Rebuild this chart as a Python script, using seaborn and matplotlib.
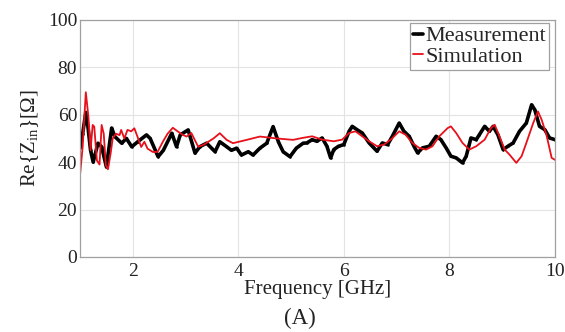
import matplotlib
matplotlib.use("Agg")
import matplotlib.pyplot as plt
import pandas as pd
import seaborn as sns

# Values
meas_freq = [1.00, 1.05, 1.11, 1.15, 1.20, 1.25, 1.34, 1.41, 1.50, 1.60, 1.66, 1.79,
             1.88, 1.98, 2.10, 2.26, 2.33, 2.48, 2.58, 2.74, 2.83, 2.90, 3.05, 3.18,
             3.27, 3.40, 3.56, 3.65, 3.78, 3.87, 3.97, 4.06, 4.19, 4.28, 4.41, 4.54,
             4.66, 4.76, 4.85, 4.98, 5.10, 5.23, 5.30, 5.40, 5.49, 5.59, 5.68, 5.75,
             5.81, 5.90, 6.00, 6.10, 6.16, 6.25, 6.35, 6.48, 6.63, 6.73, 6.83, 6.92,
             7.05, 7.14, 7.24, 7.33, 7.40, 7.49, 7.62, 7.75, 7.84, 7.94, 8.03, 8.13,
             8.25, 8.32, 8.41, 8.51, 8.57, 8.67, 8.76, 8.83, 8.92, 9.02, 9.11, 9.21,
             9.33, 9.46, 9.56, 9.62, 9.71, 9.81, 9.90, 10.00]
meas_re = [46, 52, 61, 55, 45, 40, 48, 46.5, 38, 54.4, 50.8, 48,
           50, 46.5, 48.7, 51.5, 50, 42.3, 45, 52.2, 46.5, 51.5, 53.6, 43.8,
           46.5, 48, 44.4, 48.6, 46.5, 45, 45.9, 43, 44.4, 43, 45.9, 48,
           55, 48.6, 44.4, 42.3, 45.9, 48, 48.1, 49.5, 48.8, 50.2, 46.7, 41.8,
           45.3, 46.7, 47.4, 53, 55.1, 53.7, 52.3, 48.1, 44.6, 48.1, 47.4, 50.9,
           56.5, 53, 50.9, 46.7, 43.9, 46, 46.7, 50.9, 49.5, 46, 42.5, 41.8,
           39.7, 42.5, 50.2, 49.5, 51.6, 55.1, 53, 55.1, 51.6, 45.3, 46.7, 48.1,
           53, 56.5, 64.2, 62.1, 55.1, 53.7, 50.2, 49.5]

sim_freq = [1.00, 1.05, 1.11, 1.16, 1.20, 1.24, 1.27, 1.32, 1.37, 1.41, 1.45, 1.49,
            1.53, 1.58, 1.62, 1.68, 1.75, 1.78, 1.84, 1.90, 1.97, 2.03, 2.09, 2.16,
            2.22, 2.28, 2.38, 2.47, 2.57, 2.66, 2.76, 2.85, 2.95, 3.02, 3.11, 3.24,
            3.34, 3.53, 3.65, 3.78, 3.90, 4.16, 4.41, 4.73, 5.04, 5.21, 5.40, 5.59,
            5.81, 5.97, 6.10, 6.22, 6.35, 6.48, 6.63, 6.76, 6.89, 7.05, 7.17, 7.30,
            7.43, 7.56, 7.68, 7.81, 7.97, 8.03, 8.13, 8.25, 8.38, 8.51, 8.67, 8.79,
            8.86, 8.95, 9.05, 9.14, 9.27, 9.37, 9.46, 9.59, 9.68, 9.75, 9.84, 9.94,
            10.00]
sim_re = [34.5, 46.4, 69.5, 59, 45, 55.7, 55, 40.7, 39, 55.7, 52, 38.6,
          37, 43.6, 50, 52, 51.4, 53.6, 50, 53.6, 53, 54.3, 50.7, 46.4,
          48.6, 45.7, 44.3, 44.3, 48.6, 52, 54.5, 53, 51.5, 50.8, 52.3, 46.5,
          47.3, 50, 52.2, 49.4, 48, 49.4, 50.8, 50, 49.4, 50.2, 50.9, 49.5,
          48.8, 49.5, 52.3, 53, 50.9, 48.8, 46.7, 47.4, 49.5, 53, 51.6, 48.1,
          46, 45.3, 46.7, 50.9, 54.4, 55.1, 52.3, 48.1, 45.3, 46.7, 49.5, 54.4,
          55.8, 50.9, 45.3, 43.2, 39.7, 42.5, 48.1, 56.5, 61.4, 57.9, 51.6, 41.8,
          41]

x_ticks = [2, 4, 6, 8, 10]
y_ticks = [0, 20, 40, 60, 80, 100]

meas_df = pd.DataFrame({"freq": meas_freq, "re": meas_re})
sim_df = pd.DataFrame({"freq": sim_freq, "re": sim_re})

sns.set_style("whitegrid")
plt.rcParams["font.family"] = ["Liberation Serif", "DejaVu Serif"]
plt.rcParams["mathtext.fontset"] = "custom"
plt.rcParams["mathtext.rm"] = "Liberation Serif"
plt.rcParams["mathtext.it"] = "Liberation Serif:italic"

fig = plt.figure(figsize=(5.65, 3.32), dpi=100)
ax = fig.add_axes([0.1416, 0.226, 0.8404, 0.714])

sns.lineplot(data=meas_df, x="freq", y="re", ax=ax, color="black", linewidth=2.6,
             marker=".", markersize=3.5, markeredgewidth=0, sort=False,
             estimator=None, label="Measurement")
sns.lineplot(data=sim_df, x="freq", y="re", ax=ax, color="#e8101a", linewidth=1.3,
             sort=False, estimator=None, label="Simulation")

ax.set_xlim(1, 10)
ax.set_ylim(0, 100)
ax.set_xticks(x_ticks)
ax.set_yticks(y_ticks)
ax.tick_params(axis="both", labelsize=14, colors="#222222", length=0)
ax.tick_params(axis="x", pad=4)
ax.tick_params(axis="y", pad=2)
ax.grid(True, color="#e3e3e3", linewidth=0.8)
for s in ax.spines.values():
    s.set_color("#a0a0a0")
    s.set_linewidth(0.9)

ax.set_xlabel("Frequency [GHz]", fontsize=15, color="#222222", labelpad=0)
ax.set_ylabel(r"Re{Z$_{\rm in}$}[Ω]", fontsize=15, color="#222222", labelpad=5)

leg = ax.legend(loc="upper right", bbox_to_anchor=(1.0, 1.01), fontsize=16,
                frameon=True, fancybox=False, handlelength=0.45,
                handletextpad=0.15, borderpad=0.12, labelspacing=0.0,
                borderaxespad=0.25)
leg.get_frame().set_edgecolor("#a0a0a0")
leg.get_frame().set_linewidth(0.9)
leg.get_frame().set_alpha(1)

fig.text(0.53, 0.042, "(A)", ha="center", va="center", fontsize=16.5, color="#222222")

fig.savefig("out.png", dpi=100)
